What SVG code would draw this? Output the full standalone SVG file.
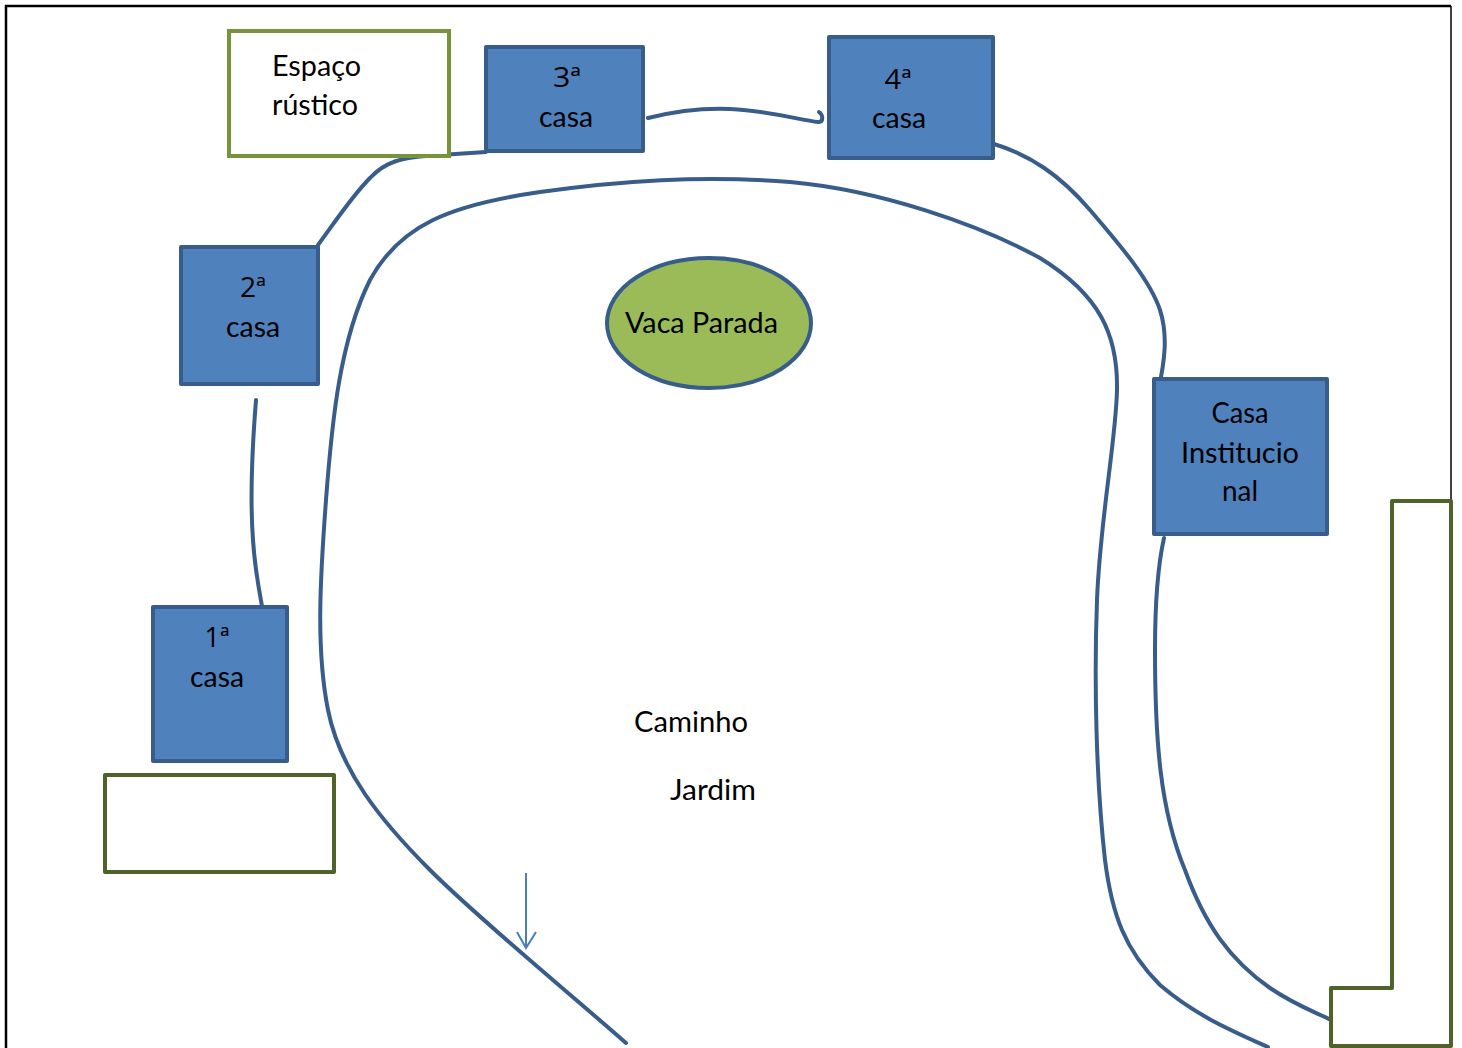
<svg xmlns="http://www.w3.org/2000/svg" width="1462" height="1048" viewBox="0 0 1462 1048">
<style>
.t{font-family:Lato,"Open Sans","Liberation Sans",sans-serif;font-size:29px;fill:#000}
.o{font-family:"Open Sans","Noto Sans","DejaVu Sans",sans-serif;font-size:27px}
.c{text-anchor:middle}
.house{fill:#4F81BD;stroke:#385D8A;stroke-width:4;stroke-linejoin:round}
.path{fill:none;stroke:#385D8A;stroke-width:4;stroke-linecap:round;stroke-linejoin:round}
.lot{fill:#fff;stroke:#4F6228;stroke-width:4;stroke-linejoin:round}
</style>
<rect width="1462" height="1048" fill="#fff"/>
<g id="frame" fill="none" stroke="#000">
<path d="M6,1048 V6 H1451" stroke-width="2.5"/>
<path d="M1451,6 V501" stroke-width="1.5"/>
</g>
<g id="connectors">
<path class="path" d="M626,1043 C560,985 480,920 430,870 C380,820 340,770 328,710 C316,650 320,580 326,500 C332,420 340,340 370,280 C400,225 450,205 540,192 C620,181 700,175 790,182 C880,190 980,225 1040,258 C1100,295 1118,335 1117,390 C1116,440 1100,520 1097,600 C1094,680 1096,780 1105,860 C1112,915 1125,950 1160,985 C1195,1015 1230,1030 1268,1047"/>
<path class="path" d="M256,400 C252,450 250,500 253,540 C255,570 259,590 262,606"/>
<path class="path" d="M318,245 C335,222 352,196 370,178 C385,162 400,157 440,155 L486,152"/>
<path class="path" d="M648,118 C680,110 705,108 730,109 C770,111 800,120 818,122 C824,122 823,115 819,112"/>
<path class="path" d="M994,144 C1030,155 1060,175 1090,210 C1120,245 1150,280 1160,310 C1168,335 1165,360 1158,392"/>
<path class="path" d="M1164,538 C1158,565 1155,600 1155,650 C1155,740 1160,810 1185,870 C1205,925 1230,960 1270,988 C1295,1005 1315,1012 1331,1020"/>
<g id="arrow" fill="none" stroke="#4A7EBB" stroke-width="2">
<path d="M526,873 V948"/>
<path d="M517,932 L526,948 L536,932"/>
</g>
</g>
<g id="espaco-rustico">
<rect x="229" y="31" width="220" height="125" fill="#fff" stroke="#77933C" stroke-width="4"/>
<text class="t" x="272" y="76" textLength="89" lengthAdjust="spacingAndGlyphs">Espaço</text>
<text class="t" x="272" y="115" textLength="86" lengthAdjust="spacingAndGlyphs">rústico</text>
</g>
<g id="casa3">
<rect class="house" x="486" y="47" width="157" height="104"/>
<text class="t o c" x="567" y="87" textLength="28" lengthAdjust="spacingAndGlyphs">3ª</text>
<text class="t c" x="566" y="127" textLength="54" lengthAdjust="spacingAndGlyphs">casa</text>
</g>
<g id="casa4">
<rect class="house" x="829" y="37" width="164" height="121"/>
<text class="t o c" x="898" y="89" textLength="27" lengthAdjust="spacingAndGlyphs">4ª</text>
<text class="t c" x="899" y="128" textLength="54" lengthAdjust="spacingAndGlyphs">casa</text>
</g>
<g id="casa2">
<rect class="house" x="181" y="247" width="137" height="137"/>
<text class="t o c" x="253" y="297" textLength="26" lengthAdjust="spacingAndGlyphs">2ª</text>
<text class="t c" x="253" y="337" textLength="54" lengthAdjust="spacingAndGlyphs">casa</text>
</g>
<g id="casa1">
<rect class="house" x="153" y="607" width="134" height="154"/>
<text class="t o c" x="217" y="647" textLength="25" lengthAdjust="spacingAndGlyphs">1ª</text>
<text class="t c" x="217" y="687" textLength="54" lengthAdjust="spacingAndGlyphs">casa</text>
</g>
<g id="casa-institucional">
<rect class="house" x="1154" y="379" width="173" height="155"/>
<text class="t c" x="1240" y="423" textLength="57" lengthAdjust="spacingAndGlyphs">Casa</text>
<text class="t c" x="1240" y="463" textLength="118" lengthAdjust="spacingAndGlyphs">Institucio</text>
<text class="t c" x="1240" y="501" textLength="36" lengthAdjust="spacingAndGlyphs">nal</text>
</g>
<g id="lote-1">
<rect class="lot" x="105" y="775" width="229" height="97"/>
</g>
<g id="lote-2">
<path class="lot" d="M1392,501 H1451 V1046 H1331 V988 H1392 Z"/>
</g>
<g id="vaca-parada">
<ellipse cx="709" cy="323" rx="102" ry="65" fill="#9BBB59" stroke="#385D8A" stroke-width="4"/>
<text class="t" x="625" y="333" textLength="153" lengthAdjust="spacingAndGlyphs">Vaca Parada</text>
</g>
<g id="labels">
<text class="t" x="634" y="732" textLength="114" lengthAdjust="spacingAndGlyphs">Caminho</text>
<text class="t" x="670" y="800" textLength="86" lengthAdjust="spacingAndGlyphs">Jardim</text>
</g>
</svg>
